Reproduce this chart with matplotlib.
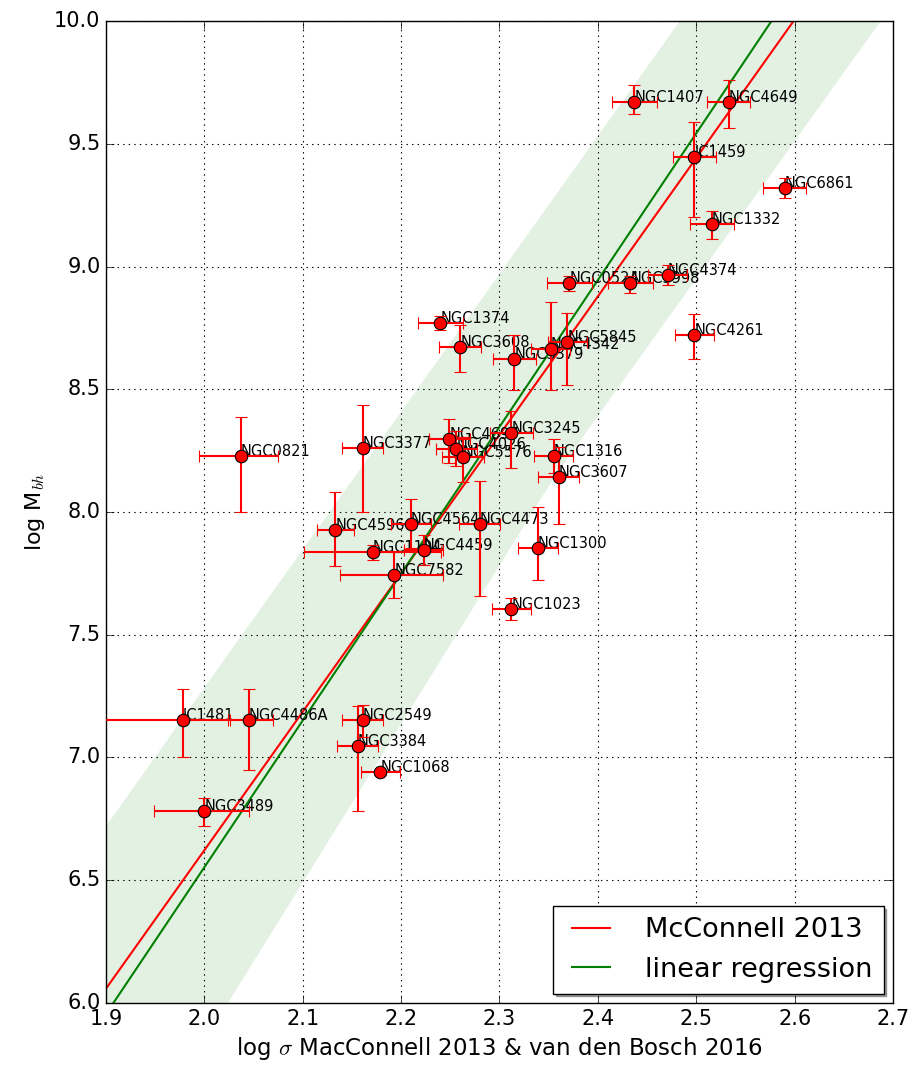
import numpy as np
import matplotlib
matplotlib.use("Agg")
import matplotlib.pyplot as plt

# galaxies: log sigma (with left/right errors) and log M_bh (with low/high errors)
names = ["NGC1407", "NGC4649", "IC1459", "NGC6861", "NGC1332", "NGC4374",
         "NGC3998", "NGC0524", "NGC4261", "NGC1374", "NGC3608", "NGC3379",
         "NGC4342", "NGC5845", "NGC3245", "NGC4697", "NGC4026", "NGC5576",
         "NGC1316", "NGC3607", "NGC0821", "NGC3377", "NGC4596", "NGC4564",
         "NGC4473", "NGC1194", "NGC4459", "NGC7582", "NGC1300", "NGC1023",
         "IC1481", "NGC4486A", "NGC2549", "NGC3384", "NGC1068", "NGC3489"]
log_sigma = [2.437, 2.533, 2.498, 2.590, 2.516, 2.471,
             2.433, 2.371, 2.498, 2.240, 2.260, 2.315,
             2.352, 2.369, 2.312, 2.249, 2.256, 2.263,
             2.355, 2.360, 2.037, 2.161, 2.133, 2.210,
             2.280, 2.171, 2.223, 2.193, 2.339, 2.312,
             1.978, 2.045, 2.161, 2.156, 2.179, 2.000]
sigma_lo = [0.023, 0.022, 0.022, 0.022, 0.022, 0.020,
            0.023, 0.023, 0.020, 0.023, 0.021, 0.022,
            0.020, 0.020, 0.022, 0.021, 0.021, 0.021,
            0.020, 0.021, 0.042, 0.021, 0.019, 0.020,
            0.021, 0.070, 0.020, 0.055, 0.020, 0.020,
            0.100, 0.021, 0.021, 0.021, 0.020, 0.051]
sigma_hi = [0.023, 0.022, 0.022, 0.022, 0.022, 0.020,
            0.023, 0.023, 0.020, 0.023, 0.021, 0.022,
            0.020, 0.020, 0.022, 0.021, 0.021, 0.021,
            0.020, 0.021, 0.038, 0.021, 0.019, 0.020,
            0.021, 0.070, 0.020, 0.050, 0.020, 0.020,
            0.048, 0.025, 0.021, 0.021, 0.020, 0.045]
log_mbh = [9.670, 9.670, 9.446, 9.320, 9.173, 8.966,
           8.932, 8.932, 8.723, 8.770, 8.672, 8.623,
           8.663, 8.693, 8.323, 8.299, 8.258, 8.224,
           8.228, 8.143, 8.229, 8.260, 7.928, 7.952,
           7.952, 7.836, 7.845, 7.743, 7.855, 7.606,
           7.151, 7.151, 7.154, 7.045, 6.939, 6.780]
mbh_lo = [0.050, 0.105, 0.243, 0.040, 0.060, 0.040,
          0.040, 0.030, 0.100, 0.030, 0.100, 0.127,
          0.166, 0.175, 0.145, 0.100, 0.070, 0.100,
          0.070, 0.190, 0.231, 0.262, 0.150, 0.100,
          0.296, 0.030, 0.060, 0.095, 0.130, 0.045,
          0.151, 0.200, 0.070, 0.265, 0.010, 0.060]
mbh_hi = [0.070, 0.090, 0.142, 0.040, 0.055, 0.040,
          0.030, 0.030, 0.085, 0.030, 0.090, 0.100,
          0.194, 0.117, 0.087, 0.080, 0.070, 0.080,
          0.070, 0.120, 0.156, 0.175, 0.153, 0.100,
          0.176, 0.030, 0.060, 0.095, 0.164, 0.045,
          0.128, 0.128, 0.060, 0.165, 0.010, 0.055]

# McConnell 2013 relation and the regression line
mc_alpha, mc_beta = 8.32, 5.64
fit_alpha, fit_beta = 8.353, 5.98
log200 = np.log10(200.0)

# shaded band edges
band_x  = [1.900, 2.024, 2.357, 2.700]
band_lo = [5.20, 6.00, 8.15, 10.07]
band_hi = [6.72, 7.42, 9.29, 11.22]

plt.style.use("classic")
plt.rcParams["figure.facecolor"] = "white"
plt.rcParams["savefig.facecolor"] = "white"
plt.rcParams["font.family"] = ["DejaVu Sans"]

fig, ax = plt.subplots(figsize=(9.15, 10.67), dpi=100)
fig.subplots_adjust(left=0.1158, right=0.976, top=0.9803, bottom=0.06)

xs = np.array([1.9, 2.7])
ax.fill_between(band_x, band_lo, band_hi, color="green", alpha=0.11, lw=0, zorder=1)
ax.plot(xs, mc_alpha + mc_beta * (xs - log200), color="red", lw=1.5,
        label="McConnell 2013", zorder=2)
ax.plot(xs, fit_alpha + fit_beta * (xs - log200), color="green", lw=1.5,
        label="linear regression", zorder=2)

ax.errorbar(log_sigma, log_mbh, xerr=[sigma_lo, sigma_hi], yerr=[mbh_lo, mbh_hi],
            fmt="o", color="red", ecolor="red", mec="black", mew=0.8, ms=9,
            elinewidth=1.5, capsize=4, capthick=1.2, zorder=4)
for name, x, y in zip(names, log_sigma, log_mbh):
    ax.annotate(name, (x, y), fontsize=10.5, zorder=3)

ax.set_xlim(1.9, 2.7)
ax.set_ylim(6.0, 10.0)
ax.set_xticks(np.arange(1.9, 2.71, 0.1))
ax.set_yticks(np.arange(6.0, 10.01, 0.5))
ax.tick_params(labelsize=15, direction="in", length=6)
ax.set_xlabel(r"log $\sigma$ MacConnell 2013 & van den Bosch 2016", fontsize=16.5)
ax.set_ylabel(r"log M$_{bh}$", fontsize=16)
ax.grid(True, linestyle=":", color="black", lw=0.8)
ax.legend(loc="lower right", fontsize=19.5, shadow=True, fancybox=False,
          handletextpad=1.0, borderaxespad=0.35)

fig.savefig("out.png", dpi=100)
